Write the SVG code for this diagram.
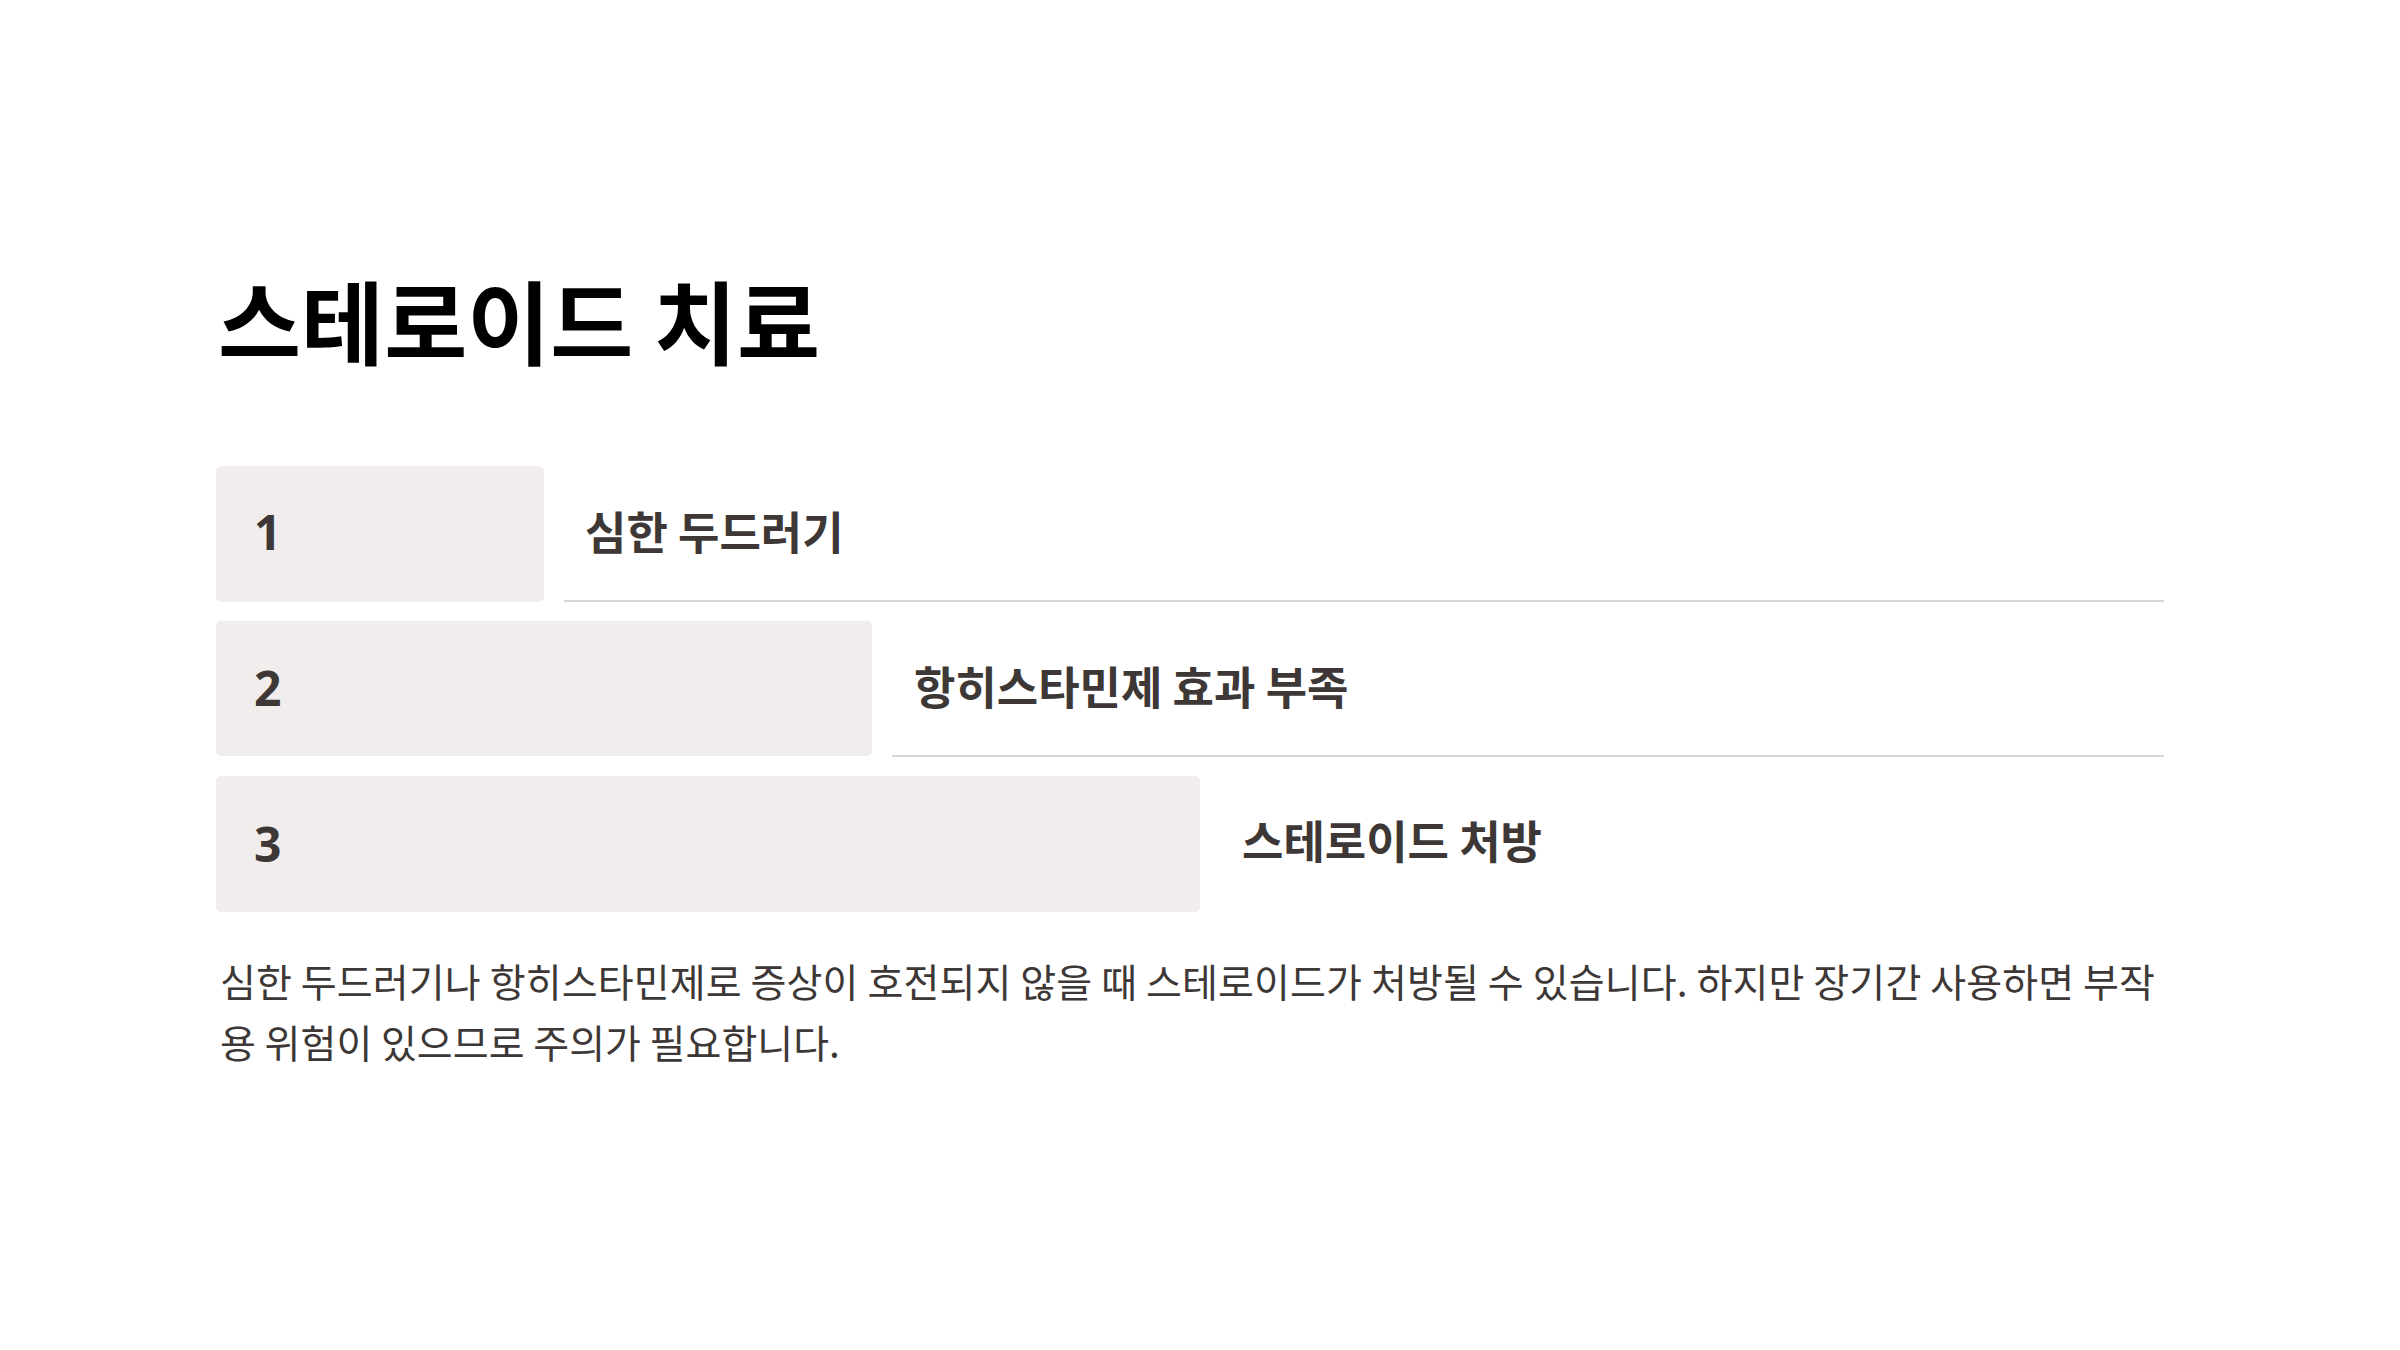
<svg xmlns="http://www.w3.org/2000/svg" width="2400" height="1350" viewBox="0 0 2400 1350">
<style>
.title{font-family:"Noto Sans CJK KR","Noto Sans",sans-serif;font-weight:700;font-size:91px;fill:#000;}
.num{font-family:"Noto Sans","Inter",sans-serif;font-weight:700;font-size:48px;fill:#3d3836;}
.label{font-family:"Noto Sans CJK KR","Noto Sans",sans-serif;font-weight:700;font-size:45px;fill:#3d3836;}
.body{font-family:"Noto Sans CJK KR","Noto Sans",sans-serif;font-weight:400;font-size:39px;fill:#3d3836;}
.box{fill:#f1edec;}
.rule{stroke:#d9d5d5;stroke-width:2;fill:none;}
</style>
<rect width="2400" height="1350" fill="#ffffff"/>
<g id="title"><text class="title" x="218" y="358" textLength="602" lengthAdjust="spacingAndGlyphs">스테로이드 치료</text></g>
<g id="step1">
<rect class="box" x="216" y="466" width="328" height="136" rx="5"/>
<text class="num" x="254" y="550">1</text>
<text class="label" x="585" y="550">심한 두드러기</text>
</g>
<g id="step2">
<rect class="box" x="216" y="621" width="656" height="135" rx="5"/>
<text class="num" x="254" y="706">2</text>
<text class="label" x="914" y="705">항히스타민제 효과 부족</text>
</g>
<g id="step3">
<rect class="box" x="216" y="776" width="984" height="136" rx="5"/>
<text class="num" x="254" y="862">3</text>
<text class="label" x="1242" y="859">스테로이드 처방</text>
</g>
<g id="connectors">
<line class="rule" x1="564" y1="601" x2="2164" y2="601"/>
<line class="rule" x1="892" y1="756" x2="2164" y2="756"/>
</g>
<g id="description">
<text class="body" x="220" y="997" textLength="1935">심한 두드러기나 항히스타민제로 증상이 호전되지 않을 때 스테로이드가 처방될 수 있습니다. 하지만 장기간 사용하면 부작</text>
<text class="body" x="220" y="1058">용 위험이 있으므로 주의가 필요합니다.</text>
</g>
</svg>
